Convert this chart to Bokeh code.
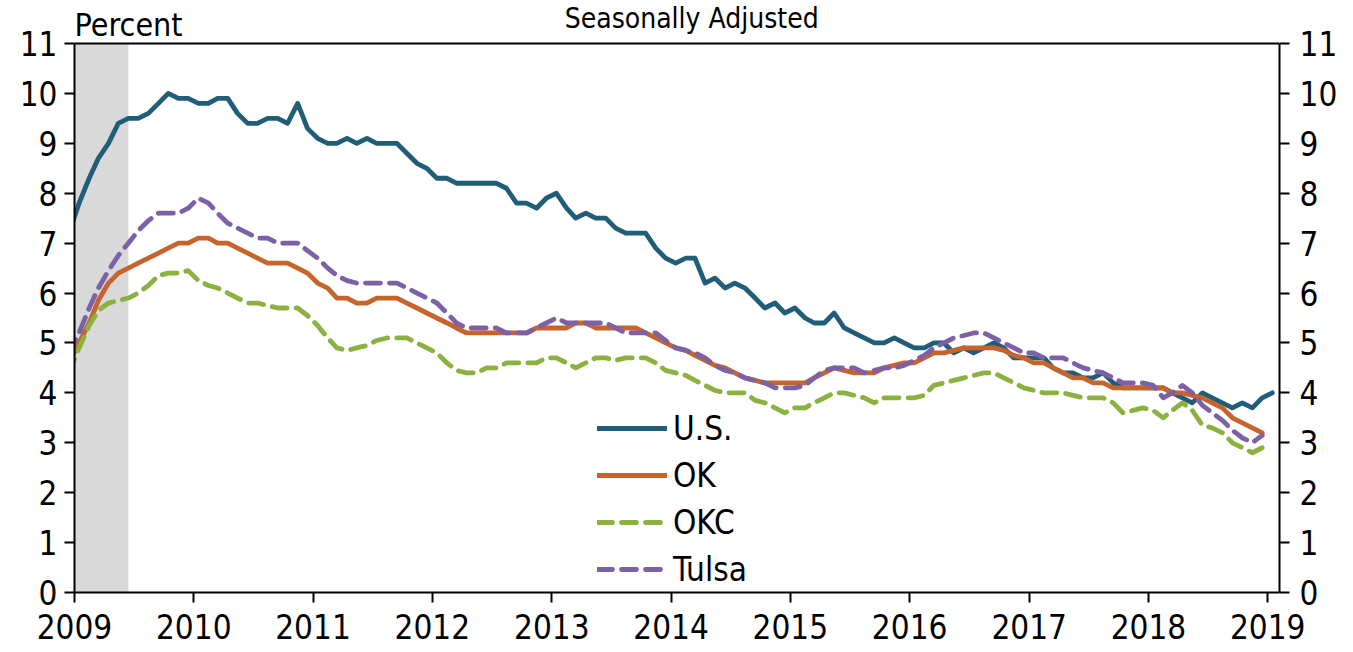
import pandas as pd
from bokeh.plotting import figure
from bokeh.models import (ColumnDataSource, Range1d, LinearAxis, FixedTicker, Span,
                          DatetimeTickFormatter, BoxAnnotation, Label, Legend, LegendItem)
from bokeh.embed import file_html
from bokeh.resources import INLINE

FONT = "DejaVu Sans Condensed"

# Monthly unemployment rates (percent), seasonally adjusted, starting Dec 2008
first_month = "2008-12-01"
us = [7.2,
      7.8, 8.3, 8.7, 9.0, 9.4, 9.5, 9.5, 9.6, 9.8, 10.0, 9.9, 9.9,
      9.8, 9.8, 9.9, 9.9, 9.6, 9.4, 9.4, 9.5, 9.5, 9.4, 9.8, 9.3,
      9.1, 9.0, 9.0, 9.1, 9.0, 9.1, 9.0, 9.0, 9.0, 8.8, 8.6, 8.5,
      8.3, 8.3, 8.2, 8.2, 8.2, 8.2, 8.2, 8.1, 7.8, 7.8, 7.7, 7.9,
      8.0, 7.7, 7.5, 7.6, 7.5, 7.5, 7.3, 7.2, 7.2, 7.2, 6.9, 6.7,
      6.6, 6.7, 6.7, 6.2, 6.3, 6.1, 6.2, 6.1, 5.9, 5.7, 5.8, 5.6,
      5.7, 5.5, 5.4, 5.4, 5.6, 5.3, 5.2, 5.1, 5.0, 5.0, 5.1, 5.0,
      4.9, 4.9, 5.0, 5.0, 4.8, 4.9, 4.8, 4.9, 5.0, 4.9, 4.7, 4.7,
      4.7, 4.7, 4.5, 4.4, 4.4, 4.3, 4.3, 4.4, 4.2, 4.1, 4.1, 4.1,
      4.1, 4.1, 4.0, 3.9, 3.8, 4.0, 3.9, 3.8, 3.7, 3.8, 3.7, 3.9,
      4.0]
ok = [4.6,
      5.0, 5.4, 5.85, 6.2, 6.4, 6.5, 6.6, 6.7, 6.8, 6.9, 7.0, 7.0,
      7.1, 7.1, 7.0, 7.0, 6.9, 6.8, 6.7, 6.6, 6.6, 6.6, 6.5, 6.4,
      6.2, 6.1, 5.9, 5.9, 5.8, 5.8, 5.9, 5.9, 5.9, 5.8, 5.7, 5.6,
      5.5, 5.4, 5.3, 5.2, 5.2, 5.2, 5.2, 5.2, 5.2, 5.2, 5.3, 5.3,
      5.3, 5.3, 5.4, 5.4, 5.3, 5.3, 5.3, 5.3, 5.3, 5.2, 5.1, 5.0,
      4.9, 4.85, 4.75, 4.65, 4.55, 4.5, 4.4, 4.3, 4.25, 4.2, 4.2, 4.2,
      4.2, 4.2, 4.3, 4.4, 4.5, 4.45, 4.4, 4.4, 4.4, 4.5, 4.55, 4.6,
      4.6, 4.7, 4.8, 4.8, 4.85, 4.9, 4.9, 4.9, 4.9, 4.85, 4.75, 4.7,
      4.6, 4.6, 4.5, 4.4, 4.3, 4.3, 4.2, 4.2, 4.1, 4.1, 4.1, 4.1,
      4.1, 4.1, 4.0, 4.0, 3.95, 3.9, 3.8, 3.7, 3.5, 3.4, 3.3, 3.2]
okc = [4.4,
       4.9, 5.35, 5.65, 5.8, 5.85, 5.9, 6.0, 6.15, 6.35, 6.4, 6.4, 6.45,
       6.25, 6.15, 6.1, 6.0, 5.9, 5.8, 5.8, 5.75, 5.7, 5.7, 5.7, 5.55,
       5.35, 5.1, 4.9, 4.85, 4.9, 4.95, 5.05, 5.1, 5.1, 5.1, 5.0, 4.9,
       4.8, 4.6, 4.45, 4.4, 4.4, 4.5, 4.5, 4.6, 4.6, 4.6, 4.6, 4.7,
       4.7, 4.6, 4.5, 4.6, 4.7, 4.7, 4.65, 4.7, 4.7, 4.7, 4.6, 4.45,
       4.4, 4.35, 4.25, 4.15, 4.05, 4.0, 4.0, 4.0, 3.85, 3.8, 3.7, 3.6,
       3.7, 3.7, 3.8, 3.9, 4.0, 4.0, 3.95, 3.9, 3.8, 3.9, 3.9, 3.9,
       3.9, 3.95, 4.15, 4.2, 4.25, 4.3, 4.35, 4.4, 4.4, 4.3, 4.2, 4.1,
       4.05, 4.0, 4.0, 4.0, 3.95, 3.9, 3.9, 3.9, 3.8, 3.6, 3.65, 3.7,
       3.65, 3.5, 3.65, 3.8, 3.65, 3.35, 3.3, 3.2, 3.0, 2.9, 2.8, 2.9]
tulsa = [4.8,
         5.2, 5.7, 6.1, 6.45, 6.75, 7.0, 7.25, 7.45, 7.6, 7.6, 7.6, 7.7,
         7.9, 7.8, 7.6, 7.4, 7.3, 7.2, 7.1, 7.1, 7.0, 7.0, 7.0, 6.85,
         6.7, 6.5, 6.35, 6.25, 6.2, 6.2, 6.2, 6.2, 6.2, 6.1, 6.0, 5.9,
         5.8, 5.6, 5.4, 5.3, 5.3, 5.3, 5.3, 5.2, 5.2, 5.2, 5.3, 5.4,
         5.5, 5.4, 5.4, 5.4, 5.4, 5.4, 5.3, 5.2, 5.2, 5.2, 5.2, 5.05,
         4.9, 4.85, 4.8, 4.7, 4.55, 4.45, 4.4, 4.3, 4.25, 4.2, 4.1, 4.1,
         4.1, 4.15, 4.3, 4.45, 4.5, 4.5, 4.5, 4.4, 4.45, 4.5, 4.5, 4.55,
         4.65, 4.75, 4.9, 5.0, 5.1, 5.15, 5.2, 5.2, 5.1, 5.0, 4.9, 4.8,
         4.8, 4.7, 4.7, 4.7, 4.6, 4.5, 4.45, 4.4, 4.3, 4.2, 4.2, 4.2,
         4.15, 3.9, 4.0, 4.15, 4.0, 3.75, 3.6, 3.45, 3.25, 3.1, 3.0, 3.15]

series_names = ["U.S.", "OK", "OKC", "Tulsa"]
series_values = [us, ok, okc, tulsa]
series_colors = ["#1f5d79", "#c7642c", "#8bb13f", "#7d61a7"]
series_dash = ["solid", "solid", "15 9", "15 9"]

year_ticks = list(range(2009, 2020))
y_ticks = list(range(0, 12))
y_max = 11
recession_start = "2009-01-01"
recession_end = "2009-06-15"
x_start = "2009-01-01"
x_end = "2019-02-06"
title_text = "Seasonally Adjusted"
title_center = "2014-03-05"

# frame extends to the top of the canvas; the visible chart box stops at y_max
p = figure(width=1353, height=652, x_axis_type="datetime",
           x_range=Range1d(pd.Timestamp(x_start), pd.Timestamp(x_end)),
           y_range=Range1d(0, y_max * 592 / 549),
           output_backend="svg", toolbar_location=None,
           min_border_left=74, min_border_right=74,
           min_border_top=0, min_border_bottom=60)
p.xgrid.visible = False
p.ygrid.visible = False
p.outline_line_color = None
p.background_fill_color = "white"
p.border_fill_color = "white"

p.add_layout(BoxAnnotation(left=pd.Timestamp(recession_start).timestamp() * 1000,
                           right=pd.Timestamp(recession_end).timestamp() * 1000,
                           bottom=0, top=y_max,
                           fill_color="#d9d9d9", fill_alpha=1.0, line_color=None,
                           level="underlay"))
p.add_layout(Span(location=y_max, dimension="width", line_color="black", line_width=2))

renderers = []
for name, vals, col, dash in zip(series_names, series_values, series_colors, series_dash):
    dates = pd.date_range(first_month, periods=len(vals), freq="MS") + pd.Timedelta(days=14)
    src = ColumnDataSource(dict(x=dates, y=vals))
    r = p.line("x", "y", source=src, line_color=col, line_width=4.8,
               line_dash=dash, line_cap="round", line_join="round")
    renderers.append(r)


def style_axis(ax, standoff):
    ax.axis_line_color = "black"
    ax.axis_line_width = 2
    ax.major_tick_line_color = "black"
    ax.major_tick_line_width = 2
    ax.major_tick_out = 10
    ax.major_tick_in = 0
    ax.minor_tick_line_color = None
    ax.major_label_text_font = FONT
    ax.major_label_text_font_size = "33px"
    ax.major_label_text_color = "black"
    ax.major_label_standoff = standoff


p.xaxis.ticker = FixedTicker(ticks=[pd.Timestamp(f"{y}-01-01").timestamp() * 1000 for y in year_ticks])
p.xaxis.formatter = DatetimeTickFormatter(years="%Y", months="%Y", days="%Y", hours="%Y",
                                          minutes="%Y", seconds="%Y", milliseconds="%Y")
style_axis(p.xaxis[0], 11)

p.yaxis.ticker = FixedTicker(ticks=y_ticks)
p.yaxis.bounds = (0, y_max)
style_axis(p.yaxis[0], 7)

right = LinearAxis(ticker=FixedTicker(ticks=y_ticks), bounds=(0, y_max))
style_axis(right, 10)
p.add_layout(right, "right")

p.add_layout(Label(x=pd.Timestamp(x_start).timestamp() * 1000, y=y_max, x_offset=0, y_offset=19,
                   text="Percent", text_font=FONT, text_font_size="32px",
                   text_baseline="alphabetic", text_color="black"))

p.add_layout(Label(x=pd.Timestamp(title_center).timestamp() * 1000, y=y_max, y_offset=25,
                   text=title_text, text_font=FONT, text_font_size="28px",
                   text_align="center", text_baseline="alphabetic", text_color="black"))

legend = Legend(items=[LegendItem(label=n, renderers=[r]) for n, r in zip(series_names, renderers)],
                location=(523, 3), orientation="vertical",
                glyph_width=70, glyph_height=40, label_height=40, spacing=7,
                padding=0, margin=0, label_standoff=6,
                border_line_color=None, background_fill_alpha=0,
                label_text_font=FONT, label_text_font_size="33px",
                label_text_color="black")
p.add_layout(legend, "center")

open("out.html", "w").write(file_html(p, INLINE))
